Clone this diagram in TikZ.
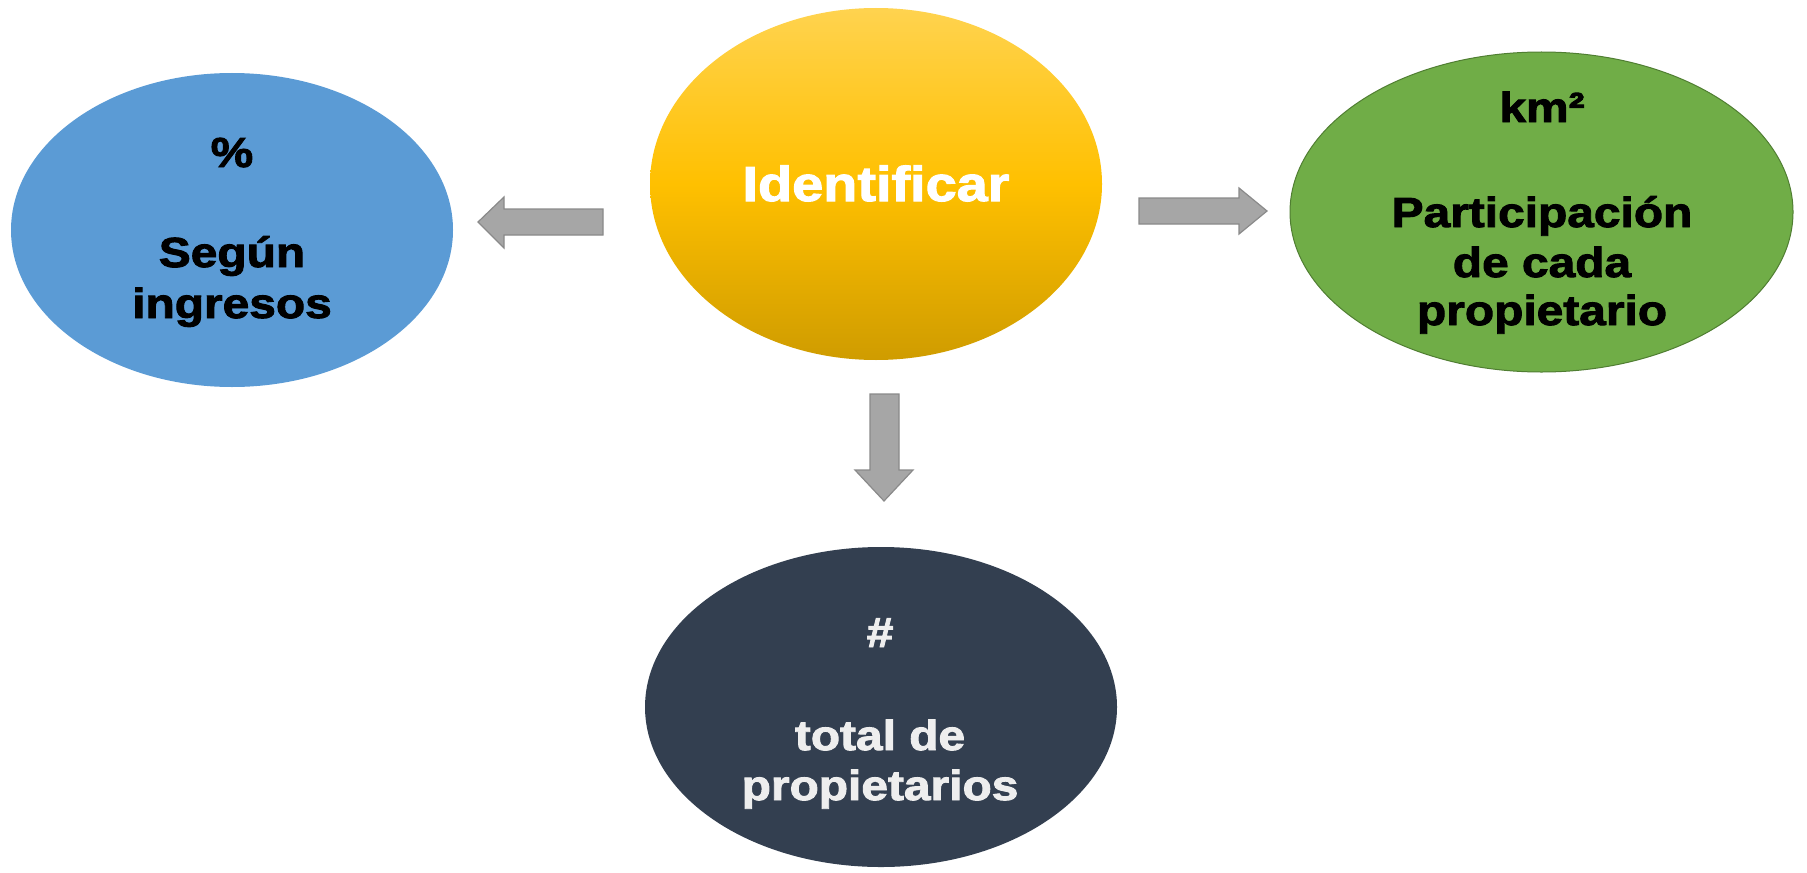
\documentclass[tikz,border=0pt]{standalone}
\usepackage{fontspec}
\newfontfamily\blk{Liberation Sans Bold}[FakeStretch=1.14,FakeBold=2.2]
\usetikzlibrary{shapes.geometric}
\definecolor{cblue}{HTML}{5B9BD5}
\definecolor{cgreen}{HTML}{70AD47}
\definecolor{cgreenline}{HTML}{507E32}
\definecolor{cdark}{HTML}{333F50}
\definecolor{cyeltop}{HTML}{FFD34F}
\definecolor{cyelmid}{HTML}{FFC000}
\definecolor{cyelbot}{HTML}{CF9C00}
\definecolor{carrow}{HTML}{A6A6A6}
\definecolor{carrowline}{HTML}{8A8A8A}
\definecolor{clight}{HTML}{EEEEEE}
\begin{document}
\begin{tikzpicture}[x=0.5pt,y=-0.5pt,
  oval/.style={ellipse, inner sep=0pt, draw=none},
  txt/.style={anchor=base, inner sep=0pt, font=\blk\fontsize{21}{25}\selectfont},
  bigtxt/.style={anchor=base, inner sep=0pt, font=\blk\fontsize{24.5}{28}\selectfont},
  blockarrow/.style={fill=carrow, draw=carrowline, line width=0.6pt, line join=miter}]
\useasboundingbox (0,0) rectangle (1807,872);

% ellipses
\node[oval, fill=cblue, minimum width=221pt, minimum height=157pt] (blue) at (232,230) {};
\node[oval, top color=cyeltop, bottom color=cyelbot, middle color=cyelmid, minimum width=226pt, minimum height=176pt] (yel) at (876,184) {};
\node[oval, fill=cgreen, draw=cgreenline, line width=0.5pt, minimum width=251.5pt, minimum height=160pt] (green) at (1541.5,212) {};
\node[oval, fill=cdark, minimum width=236pt, minimum height=160pt] (dark) at (881,707) {};

% texts
\node[txt] (t1) at (232,167) {\%};
\node[txt] (t2) at (232,267) {Según};
\node[txt] (t3) at (232,318) {ingresos};

\node[bigtxt, text=white] (t4) at (876,201) {Identificar};

\node[txt] (t5) at (1542,122) {km²};
\node[txt] (t6) at (1542,227) {Participación};
\node[txt] (t7) at (1542,277) {de cada};
\node[txt] (t8) at (1542,325) {propietario};

\node[txt, text=clight] (t9) at (880,647) {\#};
\node[txt, text=clight] (t10) at (880,750) {total de};
\node[txt, text=clight] (t11) at (880,800) {propietarios};

% block arrows
\draw[blockarrow] (478,222) -- (504,197) -- (504,209) -- (603,209) -- (603,235) -- (504,235) -- (504,248) -- cycle;
\draw[blockarrow] (1267,211) -- (1239,188) -- (1239,198) -- (1139,198) -- (1139,224) -- (1239,224) -- (1239,234) -- cycle;
\draw[blockarrow] (884,501) -- (855,470) -- (870,470) -- (870,394) -- (899,394) -- (899,470) -- (913,470) -- cycle;
\end{tikzpicture}
\end{document}
